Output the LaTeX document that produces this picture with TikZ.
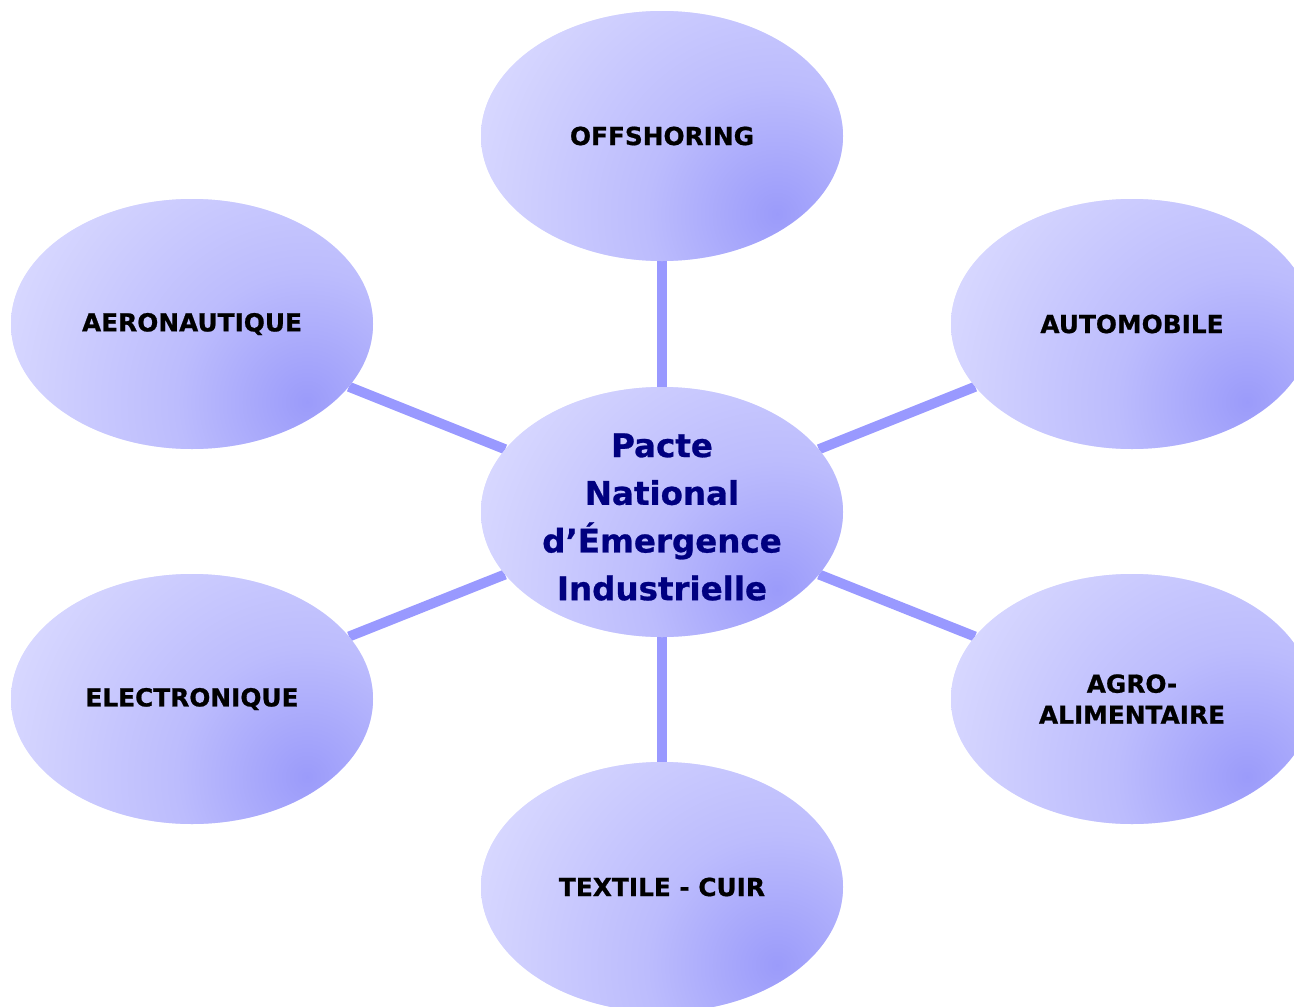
\documentclass[tikz,border=0pt]{standalone}
\usepackage{fontspec}
\setmainfont{DejaVu Sans}[BoldFeatures={FakeBold=0.8}]
\usetikzlibrary{shapes.geometric,backgrounds}
\definecolor{bubdark}{RGB}{155,155,250}
\definecolor{bubmid}{RGB}{188,188,253}
\definecolor{bublight}{RGB}{218,218,255}
\definecolor{linkcol}{RGB}{153,153,255}
\definecolor{navytext}{RGB}{0,0,128}
\pgfdeclareradialshading{glow}{\pgfpointorigin}{color(0bp)=(bubdark); color(6.5bp)=(bubmid); color(16.5bp)=(bublight); color(50bp)=(bublight)}
\tikzset{
  bubble/.style={ellipse, fill=bublight, minimum width=362pt, minimum height=250pt,
    inner sep=0pt, align=center, font=\bfseries\fontsize{24.8}{31}\selectfont,
    path picture={\shade[shading=glow] ([shift={(115,78)}]path picture bounding box.center) circle (500pt);}},
  hubtext/.style={text=navytext, inner sep=0pt, align=center,
    font=\bfseries\fontsize{32.5}{47.7}\selectfont},
  link/.style={draw=linkcol, line width=10pt}
}
\begin{document}
\begin{tikzpicture}[x=1pt,y=-1pt]
\useasboundingbox (0,0) rectangle (1294,1007);
\clip (0,0) rectangle (1294,1007);
\node[bubble] (hub) at (662,512) {};
\node[hubtext] (hubtxt) at (662,517) {Pacte\\National\\d’Émergence\\Industrielle};
\node[bubble] (off) at (662,136) {OFFSHORING};
\node[bubble] (aero) at (192,324) {AERONAUTIQUE};
\node[bubble] (auto) at (1132,324) {AUTOMOBILE};
\node[bubble] (elec) at (192,699) {ELECTRONIQUE};
\node[bubble] (agro) at (1132,699) {AGRO-\\ALIMENTAIRE};
\node[bubble] (text) at (662,887) {TEXTILE - CUIR};
\begin{scope}[on background layer]
\fill[white] (0,0) rectangle (1294,1007);
\draw[link] (hub) -- (off);
\draw[link] (hub) -- (aero);
\draw[link] (hub) -- (auto);
\draw[link] (hub) -- (elec);
\draw[link] (hub) -- (agro);
\draw[link] (hub) -- (text);
\end{scope}
\end{tikzpicture}
\end{document}
